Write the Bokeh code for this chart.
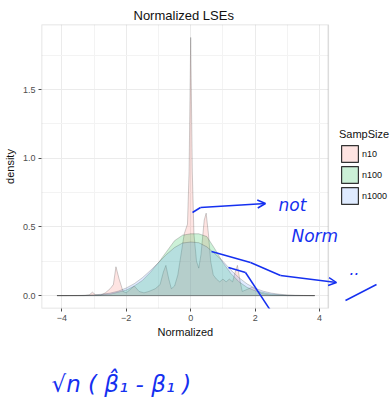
from bokeh.plotting import figure
from bokeh.models import (ColumnDataSource, Legend, LegendItem, SingleIntervalTicker, FixedTicker,
                          Range1d, Label, Arrow, OpenHead, CustomJSTickFormatter, BoxAnnotation, Title)
from bokeh.embed import file_html
from bokeh.resources import INLINE

# ---------------- data ----------------
groups = ["n10", "n100", "n1000"]
fill_colors = ["#F8766D", "#00BA38", "#619CFF"]

n10_x = [-4.15, -3.3, -3.15, -3.05, -2.95, -2.8, -2.65, -2.5, -2.4, -2.32, -2.22, -2.1,
         -2.0, -1.85, -1.75, -1.6, -1.45, -1.3, -1.1, -0.95, -0.85, -0.77, -0.68, -0.6,
         -0.5, -0.4, -0.3, -0.2, -0.1, -0.05, 0.0, 0.05, 0.1, 0.18, 0.25, 0.32, 0.42,
         0.48, 0.55, 0.62, 0.7, 0.8, 0.9, 1.0, 1.1, 1.2, 1.3, 1.38, 1.45, 1.52, 1.6,
         1.7, 1.9, 2.05, 2.2, 2.5, 3.0, 3.85]
n10_y = [0.0, 0.0, 0.005, 0.025, 0.005, 0.003, 0.02, 0.05, 0.08, 0.21, 0.12, 0.03,
         0.02, 0.05, 0.07, 0.03, 0.02, 0.03, 0.05, 0.08, 0.17, 0.22, 0.12, 0.05,
         0.07, 0.15, 0.30, 0.45, 0.52, 0.9, 1.88, 0.9, 0.45, 0.25, 0.20, 0.30, 0.55,
         0.60, 0.45, 0.25, 0.15, 0.12, 0.10, 0.12, 0.10, 0.12, 0.10, 0.17, 0.22, 0.12, 0.03,
         0.04, 0.06, 0.04, 0.015, 0.003, 0.0, 0.0]

n100_x = [-4.15, -3.5, -3.0, -2.5, -2.0, -1.75, -1.5, -1.25, -1.0, -0.75, -0.5, -0.25,
          0.0, 0.25, 0.5, 0.75, 1.0, 1.25, 1.5, 1.75, 2.0, 2.5, 3.0, 3.5, 3.85]
n100_y = [0.0, 0.0005, 0.002, 0.01, 0.04, 0.07, 0.11, 0.17, 0.24, 0.32, 0.40, 0.44,
          0.45, 0.45, 0.43, 0.34, 0.24, 0.16, 0.10, 0.06, 0.035, 0.01, 0.002, 0.0005, 0.0]

n1000_x = [-4.15, -3.75, -3.5, -3.25, -3.0, -2.75, -2.5, -2.25, -2.0, -1.75, -1.5, -1.25,
           -1.0, -0.75, -0.5, -0.25, 0.0, 0.25, 0.5, 0.75, 1.0, 1.25, 1.5, 1.75, 2.0,
           2.25, 2.5, 2.75, 3.0, 3.25, 3.5, 3.85]
n1000_y = [0.0, 0.0005, 0.001, 0.002, 0.005, 0.01, 0.018, 0.032, 0.055, 0.087, 0.13, 0.183,
           0.24, 0.30, 0.35, 0.383, 0.39, 0.385, 0.355, 0.305, 0.25, 0.185, 0.13, 0.085, 0.053,
           0.032, 0.018, 0.01, 0.005, 0.002, 0.001, 0.0]

series_x = [n10_x, n100_x, n1000_x]
series_y = [n10_y, n100_y, n1000_y]

x_ticks = [-4, -2, 0, 2, 4]
x_minor = [-3, -1, 1, 3]
x_lim = (-4.63, 4.27)      # ggplot panel limits
y_lim = (-0.094, 1.974)

# handwritten annotations (blue ink) in canvas pixels
ink = "#1530f0"
note_texts = ["not", "Norm", "··"]
note_pos = [(278, 214), (291, 245), (348, 283)]
note_sizes = ["17px", "17px", "16px"]
formula_text = "√n (  β̂₁  -   β₁  )"
arrow_segs = [  # (x0, y0, x1, y1, head)
    (192, 212, 200, 207, False), (200, 207, 265, 203, True),
    (211, 251, 250, 262, False), (250, 262, 280, 275, False), (280, 275, 336, 282, True),
    (228, 267, 245, 272, False), (245, 272, 270, 310, False),
    (345, 300, 376, 284, False),
]

# ---------------- figure ----------------
# frame extends to the right canvas edge; the ggplot panel is the left part of it
p = figure(width=392, height=403, output_backend="svg", toolbar_location=None,
           x_range=Range1d(x_lim[0], x_lim[0] + 354 / 32.5), y_range=Range1d(*y_lim),
           min_border_left=38, min_border_right=0, min_border_top=24, min_border_bottom=0)
p.title.text = "Normalized LSEs"
p.title.align = "left"
p.title.offset = 92
p.title.text_font = "Liberation Sans"
p.title.text_font_size = "13px"
p.title.text_font_style = "normal"
p.title.text_color = "#111111"
p.title.standoff = 4

p.background_fill_color = "white"
p.border_fill_color = "white"
p.outline_line_color = None

p.xaxis.ticker = FixedTicker(ticks=x_ticks, minor_ticks=x_minor)
p.yaxis.ticker = SingleIntervalTicker(interval=0.5, num_minor_ticks=2)
for ax in (p.xaxis[0], p.yaxis[0]):
    ax.axis_line_color = None
    ax.major_tick_line_color = "#4d4d4d"
    ax.major_tick_in = 0
    ax.major_tick_out = 3
    ax.minor_tick_line_color = None
    ax.major_label_text_font = "Liberation Sans"
    ax.major_label_text_font_size = "9px"
    ax.major_label_text_color = "#4d4d4d"
    ax.major_label_standoff = 2
    ax.axis_label_text_font = "Liberation Sans"
    ax.axis_label_text_font_size = "11px"
    ax.axis_label_text_font_style = "normal"
    ax.axis_label_text_color = "#111111"
    ax.axis_label_standoff = 4
p.yaxis.axis_label = "density"
p.yaxis.formatter = CustomJSTickFormatter(code="return tick.toFixed(1);")
p.xaxis.formatter = CustomJSTickFormatter(code="return tick < 0 ? '\u2212' + Math.abs(tick) : String(tick);")

p.grid.grid_line_color = "#ebebeb"
p.grid.grid_line_width = 1
p.grid.minor_grid_line_color = "#f3f3f3"
p.grid.minor_grid_line_width = 1

nan = float("nan")
legend_items = []
for name, col, xs, ys in zip(groups, fill_colors, series_x, series_y):
    src = ColumnDataSource(dict(x=xs, y=ys))
    p.patch("x", "y", source=src, fill_color=col, fill_alpha=0.2,
            line_color="#333333", line_alpha=0.3, line_width=0.8)
    # legend key only (no visible data): same fill, darker border like the ggplot key
    key = p.patch(x=[nan, nan, nan], y=[nan, nan, nan], fill_color=col, fill_alpha=0.2,
                  line_color="#333333", line_width=1.2)
    legend_items.append(LegendItem(label=name, renderers=[key]))

# white cover right of the panel, then the panel border
p.add_layout(BoxAnnotation(left=x_lim[1], fill_color="white", fill_alpha=1.0,
                           line_color=None))
p.add_layout(BoxAnnotation(left=x_lim[0], right=x_lim[1], bottom=y_lim[0], top=y_lim[1],
                           fill_alpha=0, line_color="#8c8c8c", line_width=1.5))

legend = Legend(items=legend_items, title="SampSize", location=(298, 102),
                orientation="vertical")
legend.title_text_font = "Liberation Sans"
legend.title_text_font_size = "11px"
legend.title_text_font_style = "normal"
legend.title_text_color = "#111111"
legend.title_standoff = 3
legend.label_text_font = "Liberation Sans"
legend.label_text_font_size = "9px"
legend.label_text_color = "#111111"
legend.label_standoff = 2
legend.glyph_width = 21
legend.glyph_height = 21
legend.label_height = 21
legend.spacing = 0
legend.padding = 0
legend.margin = 0
legend.border_line_color = None
legend.background_fill_alpha = 0
p.add_layout(legend, "center")

# x-axis title, placed under the panel centre
p.add_layout(Title(text="Normalized", align="left", offset=116, text_font="Liberation Sans",
                   text_font_size="11px", text_font_style="normal", text_color="#111111",
                   standoff=0), "below")
# empty spacer between the axis title and the handwritten formula
p.add_layout(Title(text=" ", text_font_size="1px", standoff=21), "below")
p.add_layout(Title(text=formula_text, align="left", offset=10, text_font="DejaVu Sans",
                   text_font_size="23px", text_font_style="italic", text_color=ink,
                   standoff=14), "below")

for t, (x, y), s in zip(note_texts, note_pos, note_sizes):
    p.add_layout(Label(x=x, y=y, x_units="canvas", y_units="canvas", text=t,
                       text_color=ink, text_font="DejaVu Sans", text_font_style="italic",
                       text_font_size=s, text_baseline="bottom"))
for x0, y0, x1, y1, head in arrow_segs:
    p.add_layout(Arrow(x_start=x0, y_start=y0, x_end=x1, y_end=y1,
                       start_units="canvas", end_units="canvas",
                       line_color=ink, line_width=1.5,
                       end=OpenHead(size=8, line_color=ink, line_width=1.5) if head else None))

open("out.html", "w").write(file_html(p, INLINE))
